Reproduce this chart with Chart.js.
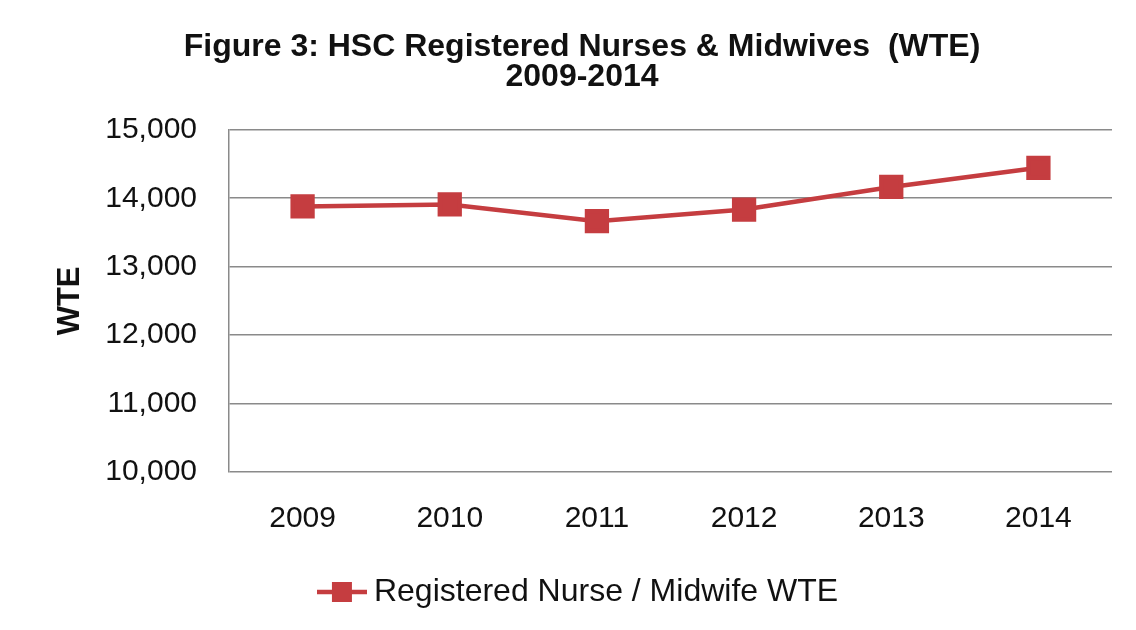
<!DOCTYPE html>
<html>
<head>
<meta charset="utf-8">
<script src="https://cdn.jsdelivr.net/npm/chart.js@4.4.1/dist/chart.umd.min.js"></script>
<style>
  html, body { margin: 0; padding: 0; background: #ffffff; }
  #wrap { width: 1136px; height: 630px; position: relative; }
</style>
</head>
<body>
<div id="wrap"><canvas id="chart"></canvas></div>
<script>
const years = ['2009', '2010', '2011', '2012', '2013', '2014'];
const nurseWte = [13880, 13910, 13665, 13835, 14165, 14445];
const yTicks = [10000, 11000, 12000, 13000, 14000, 15000];

const lineColor = '#c53d40';
const gridColor = '#8a8a8a';

// legend marker: short line with a square on it
function legendMarker() {
  const c = document.createElement('canvas');
  c.width = 50;
  c.height = 22;
  const g = c.getContext('2d');
  g.strokeStyle = lineColor;
  g.lineWidth = 4.5;
  g.beginPath();
  g.moveTo(0, 11);
  g.lineTo(50, 11);
  g.stroke();
  g.fillStyle = lineColor;
  g.fillRect(15, 1, 20, 20);
  return c;
}

const ctx = document.getElementById('chart').getContext('2d');
const chart = new Chart(ctx, {
  type: 'line',
  data: {
    labels: years,
    datasets: [{
      label: 'Registered Nurse / Midwife WTE',
      data: nurseWte,
      borderColor: lineColor,
      backgroundColor: lineColor,
      borderWidth: 4.5,
      pointStyle: 'rect',
      pointRadius: 14,
      pointHoverRadius: 14,
      tension: 0
    }]
  },
  options: {
    responsive: true,
    maintainAspectRatio: false,
    animation: false,
    layout: {
      padding: { top: 32, right: 24, bottom: 12, left: 52 }
    },
    plugins: {
      title: {
        display: true,
        text: ['Figure 3: HSC Registered Nurses & Midwives  (WTE)', '2009-2014'],
        color: '#111111',
        font: { family: 'Liberation Sans', size: 32, weight: 'bold', lineHeight: 0.95 },
        padding: { top: 0, bottom: 37 }
      },
      legend: {
        display: true,
        position: 'bottom',
        labels: {
          usePointStyle: true,
          pointStyle: legendMarker(),
          color: '#111111',
          font: { family: 'Liberation Sans', size: 32 },
          padding: 10
        }
      },
      tooltip: { enabled: false }
    },
    scales: {
      x: {
        offset: true,
        grid: { display: false, drawTicks: false },
        border: { display: false },
        ticks: {
          color: '#111111',
          font: { family: 'Liberation Sans', size: 30 },
          padding: 29
        }
      },
      y: {
        min: 10000,
        max: 15000,
        afterFit: function(scale) {
          scale.width = 177;
        },
        afterBuildTicks: function(scale) {
          scale.ticks = yTicks.map(v => ({ value: v }));
        },
        title: {
          display: true,
          text: 'WTE',
          color: '#111111',
          font: { family: 'Liberation Sans', size: 31, weight: 'bold' },
          padding: { top: 0, bottom: 0 }
        },
        grid: { color: gridColor, lineWidth: 1.5, drawTicks: false },
        border: { color: gridColor, width: 1.5 },
        ticks: {
          color: '#111111',
          font: { family: 'Liberation Sans', size: 30 },
          padding: 32,
          callback: v => v.toLocaleString('en-US')
        }
      }
    }
  }
});
</script>
</body>
</html>
